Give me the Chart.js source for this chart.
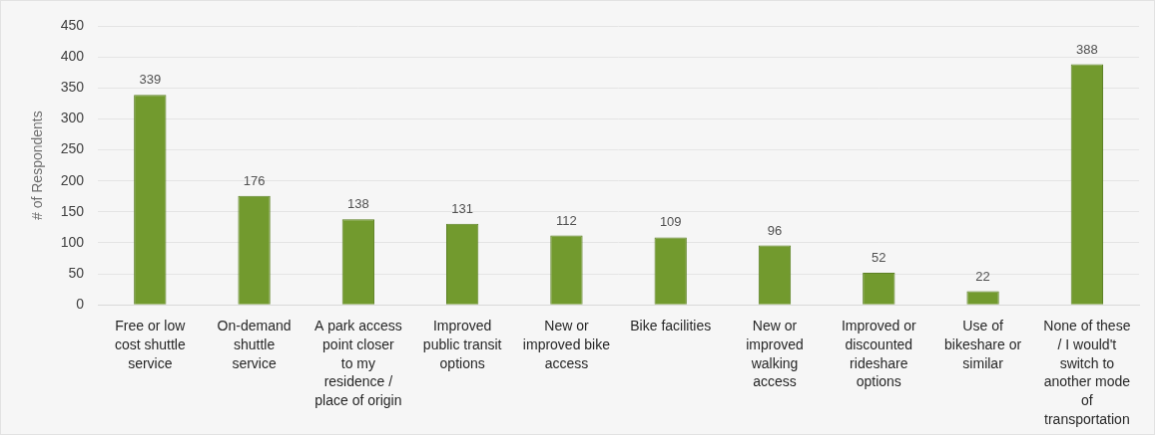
<!DOCTYPE html>
<html>
<head>
<meta charset="utf-8">
<script src="https://cdn.jsdelivr.net/npm/chart.js@4.4.1/dist/chart.umd.min.js"></script>
<style>
  html, body { margin: 0; padding: 0; background: #ffffff; }
  #respuestas { display: block; background: #f6f6f6; box-sizing: border-box; border: 1px solid #e2e2e2; }
</style>
</head>
<body>
<canvas id="respuestas" width="1155" height="435"></canvas>
<script>
const categorias = [
  ['Free or low', 'cost shuttle', 'service'],
  ['On-demand', 'shuttle', 'service'],
  ['A park access', 'point closer', 'to my', 'residence /', 'place of origin'],
  ['Improved', 'public transit', 'options'],
  ['New or', 'improved bike', 'access'],
  ['Bike facilities'],
  ['New or', 'improved', 'walking', 'access'],
  ['Improved or', 'discounted', 'rideshare', 'options'],
  ['Use of', 'bikeshare or', 'similar'],
  ['None of these', '/ I would\'t', 'switch to', 'another mode', 'of', 'transportation']
];
const respuestas = [339, 176, 138, 131, 112, 109, 96, 52, 22, 388];
const ejeY = [0, 50, 100, 150, 200, 250, 300, 350, 400, 450];

// etiquetas de valor encima de cada barra
const etiquetasValor = {
  id: 'etiquetasValor',
  afterDatasetsDraw(chart) {
    const ctx = chart.ctx;
    const meta = chart.getDatasetMeta(0);
    ctx.save();
    ctx.font = '13px "Liberation Sans", Arial, sans-serif';
    ctx.fillStyle = '#505050';
    ctx.textAlign = 'center';
    ctx.textBaseline = 'bottom';
    meta.data.forEach((bar, i) => {
      ctx.fillText(respuestas[i], bar.x, bar.y - 8);
    });
    ctx.restore();
  }
};

new Chart(document.getElementById('respuestas'), {
  type: 'bar',
  data: {
    labels: categorias,
    datasets: [{
      label: '# of Respondents',
      data: respuestas,
      backgroundColor: '#729a2e',
      borderColor: '#5e8226',
      borderWidth: 1,
      barPercentage: 0.62,
      categoryPercentage: 0.5
    }]
  },
  options: {
    animation: false,
    responsive: false,
    layout: { padding: { left: 25, right: 15, top: 25, bottom: 0 } },
    plugins: {
      legend: { display: false },
      tooltip: { enabled: false }
    },
    scales: {
      x: {
        grid: { display: false },
        border: { color: '#d9d9d9' },
        ticks: {
          maxRotation: 0,
          autoSkip: false,
          color: '#262626',
          padding: 5,
          font: { family: '"Liberation Sans", Arial, sans-serif', size: 14, lineHeight: 1.33 }
        }
      },
      y: {
        min: 0,
        max: 450,
        afterBuildTicks: (axis) => { axis.ticks = ejeY.map(v => ({ value: v })); },
        grid: { color: '#e4e4e4', drawTicks: false },
        border: { display: false },
        ticks: {
          color: '#404040',
          padding: 14,
          font: { family: '"Liberation Sans", Arial, sans-serif', size: 14 }
        },
        title: {
          display: true,
          text: '# of Respondents',
          color: '#6e6e6e',
          padding: { bottom: 0 },
          font: { family: '"Liberation Sans", Arial, sans-serif', size: 14 }
        }
      }
    }
  },
  plugins: [etiquetasValor]
});
</script>
</body>
</html>
